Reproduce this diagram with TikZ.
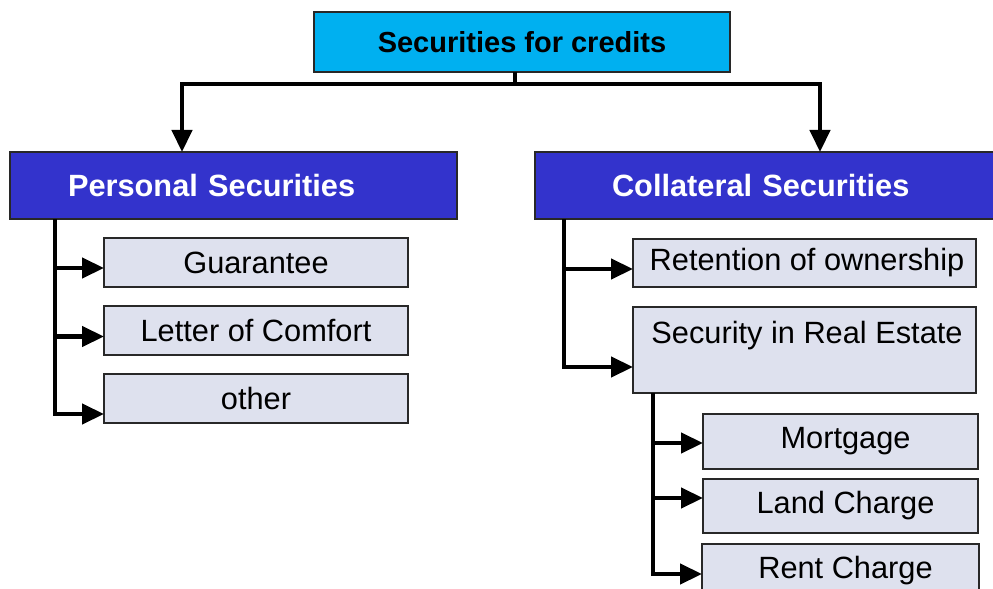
\documentclass[tikz,border=0pt]{standalone}
\usepackage{fontspec}
\setmainfont{Liberation Sans}
\usepackage{tikz}
\usetikzlibrary{arrows.meta, positioning}

\definecolor{rootcyan}{RGB}{0,176,240}
\definecolor{headblue}{RGB}{51,51,204}
\definecolor{itemgray}{RGB}{222,225,238}
\definecolor{edgegray}{RGB}{40,40,40}

\begin{document}
\begin{tikzpicture}[
  every node/.style={outer sep=0pt},
  rootbox/.style={rectangle, draw=edgegray, line width=0.8pt, fill=rootcyan, minimum width=8.32cm, minimum height=1.2cm, font=\fontsize{16.5}{20}\selectfont\bfseries},
  header/.style={rectangle, draw=edgegray, line width=0.6pt, fill=headblue, text=white, align=left, minimum height=1.34cm, font=\fontsize{17.5}{21}\selectfont\bfseries},
  item/.style={rectangle, draw=edgegray, line width=0.6pt, fill=itemgray, minimum height=0.98cm, font=\fontsize{17.5}{21}\selectfont},
  line/.style={line width=2.5pt},
  arrow/.style={line width=2.5pt, -{Triangle[length=0.44cm, width=0.4cm]}}
]
\useasboundingbox (0,0) rectangle (19.86,-11.78);
\clip (0,0) rectangle (19.86,-11.78);

\node[rootbox] (root) at (10.44,-0.84) {Securities for credits};

\node[header, anchor=north west, text width=6.62cm, inner xsep=1.16cm] (personal) at (0.2,-3.04) {Personal Securities};
\node[header, anchor=north west, text width=6.22cm, inner xsep=1.54cm] (collateral) at (10.7,-3.04) {Collateral Securities};

% personal side
\node[item, minimum width=6.08cm, below right=0.38cm and 1.88cm of personal.south west] (guarantee) {Guarantee};
\node[item, minimum width=6.08cm, below=0.38cm of guarantee] (comfort) {Letter of Comfort};
\node[item, minimum width=6.08cm, below=0.38cm of comfort] (other) {other};

% collateral side
\node[item, minimum width=6.86cm, minimum height=0.96cm, below right=0.4cm and 1.96cm of collateral.south west] (retention) {\hspace{0.1cm}Retention of ownership};
\node[item, minimum width=6.86cm, inner ysep=0pt, text height=0.72cm, text depth=1.0cm, below=0.4cm of retention] (realestate) {\hspace{0.1cm}Security in Real Estate};

\node[item, minimum width=5.5cm, minimum height=1.1cm, below right=0.42cm and 1.4cm of realestate.south west] (mortgage) {\hspace{0.2cm}Mortgage};
\node[item, minimum width=5.5cm, minimum height=1.08cm, below=0.2cm of mortgage] (land) {\hspace{0.2cm}Land Charge};
\node[item, minimum width=5.54cm, minimum height=1.08cm, below=0.22cm of land] (rent) {\hspace{0.2cm}Rent Charge};

\coordinate (split) at (10.3,-1.68);

\draw[line] ([xshift=-0.14cm]root.south) -- (split);
\draw[arrow] (split) -| ([xshift=-1.03cm]personal.north);
\draw[arrow] (split) -| ([xshift=1.05cm]collateral.north);

\draw[arrow] ([xshift=0.9cm]personal.south west) |- ([yshift=-0.11cm]guarantee.west);
\draw[arrow] ([xshift=0.9cm]personal.south west) |- ([yshift=-0.12cm]comfort.west);
\draw[arrow] ([xshift=0.9cm]personal.south west) |- ([yshift=-0.31cm]other.west);

\draw[arrow] ([xshift=0.58cm]collateral.south west) |- ([yshift=-0.12cm]retention.west);
\draw[arrow] ([xshift=0.58cm]collateral.south west) |- ([yshift=-0.34cm]realestate.west);

\draw[arrow] ([xshift=0.4cm]realestate.south west) |- ([yshift=-0.03cm]mortgage.west);
\draw[arrow] ([xshift=0.4cm]realestate.south west) |- ([yshift=0.16cm]land.west);
\draw[arrow] ([xshift=0.4cm]realestate.south west) |- ([yshift=-0.06cm]rent.west);

\end{tikzpicture}
\end{document}
